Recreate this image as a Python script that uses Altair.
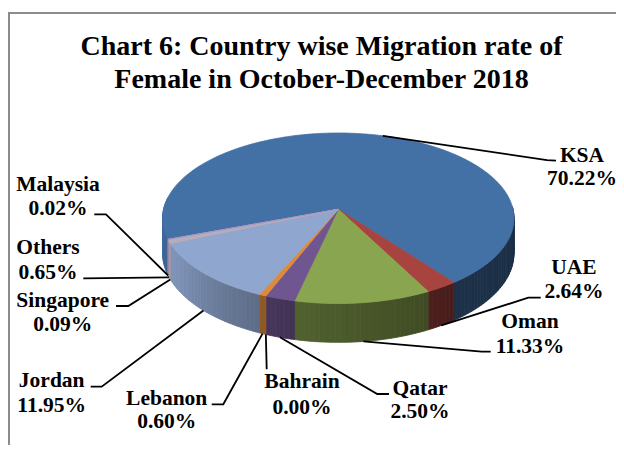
import math
import altair as alt

categories = ["KSA", "UAE", "Oman", "Qatar", "Bahrain", "Lebanon", "Jordan", "Singapore", "Others", "Malaysia"]
values = [70.22, 2.64, 11.33, 2.50, 0.00, 0.60, 11.95, 0.09, 0.65, 0.02]
colors = ["#4371a6", "#a84440", "#8aa54f", "#705690", "#4bacc6", "#de8a3c", "#8fa6cf", "#c9a0a0", "#aeb0c0", "#ab94c0"]
title_lines = ["Chart 6: Country wise Migration rate of", "Female in October-December 2018"]

# layout of the 3-D view (page pixels)
CX, CY, A, B, K, DEPTH = 338.3, 209.3, 174.7, 84.3, 0.105, 34.8
START = 249.9
# label centre x, two baselines, elbow points of the leader (from label to the rim)
layout = {
    "KSA": (582, 161.5, 185, [(556, 160.7), (547, 160.2)], "top"),
    "UAE": (574, 274, 298, [(540.7, 297.7), (528.3, 297.7)], "bottom"),
    "Oman": (530, 328, 352.5, [(490.7, 351.7), (481.7, 351.7)], "bottom"),
    "Qatar": (420, 395, 418, [(389, 394), (377.3, 394)], "bottom"),
    "Bahrain": (302, 388, 414, [(266.7, 369.3)], "bottom"),
    "Lebanon": (166.7, 405, 428, [(211.7, 404.3), (223.3, 404.3)], "bottom"),
    "Jordan": (51.7, 387, 411.5, [(90.7, 386.7), (101.7, 386.7)], "bottom"),
    "Singapore": (62.7, 306.5, 330.5, [(116, 306), (128.3, 306)], "bottom"),
    "Others": (48, 254, 279, [(83.3, 278.3)], "bottom"),
    "Malaysia": (58, 191, 215, [(94.3, 214.3), (106, 214.3)], "bottom"),
}


def rim(theta, bottom=False):
    t = math.radians(theta)
    u, v = math.sin(t), -math.cos(t)
    w = 1 / (1 - K * v)
    return (CX + A * u * w, CY + B * v * w + (DEPTH * w if bottom else 0))


def shade(hexcol, f):
    r, g, b = (int(hexcol[i:i + 2], 16) for i in (1, 3, 5))
    return "#%02x%02x%02x" % (int(r * f), int(g * f), int(b * f))


def wall_factor(theta):
    """light falls from the left on the side wall"""
    pts = [(90, 0.42), (145, 0.44), (195, 0.60), (215, 0.72), (240, 0.88), (280, 0.95)]
    for (a0, f0), (a1, f1) in zip(pts, pts[1:]):
        if a0 <= theta <= a1:
            return f0 + (f1 - f0) * (theta - a0) / (a1 - a0)
    return 0.42


def feature(coords, color, kind="Polygon"):
    if kind == "Polygon":
        c = [[list(p) for p in coords] + [list(coords[0])]]
    else:
        c = [list(p) for p in coords]
    return {"type": "Feature", "geometry": {"type": kind, "coordinates": c}, "properties": {"color": color}}


walls, tops, leaders, labels = [], [], [], []
angle = START
for name, val, col in zip(categories, values, colors):
    a0, a1 = angle, angle + val * 3.6
    mid = (a0 + a1) / 2
    angle = a1
    # top face
    n = max(2, int(val * 3))
    pts = [(CX, CY)] + [rim(a0 + (a1 - a0) * i / n) for i in range(n + 1)]
    if val > 0:
        tops.append(feature(pts, col))
    # side wall, only the part facing the viewer
    for off in (0, 360, -360):
        lo, hi = max(a0 + off, 88), min(a1 + off, 278)
        if hi <= lo:
            continue
        steps = max(1, int((hi - lo) / 1.5))
        for i in range(steps):
            s0 = lo + (hi - lo) * i / steps
            s1 = lo + (hi - lo) * (i + 1) / steps
            poly = [rim(s0), rim(s1), rim(s1, True), rim(s0, True)]
            walls.append(feature(poly, shade(col, wall_factor((s0 + s1) / 2))))
    # leader + label
    x, y1, y2, elbows, side = layout[name]
    m = mid % 360
    start = rim(m, side == "bottom")
    leaders.append(feature([start] + elbows[::-1], "#000000", "LineString"))
    labels.append({"lon": x, "lat": y1, "t": name})
    labels.append({"lon": x, "lat": y2, "t": f"{val:.2f}%"})

frame = [feature([(9, 453), (9, 13), (624, 13)], "#8c8c8c", "LineString")]

proj = alt.Projection(type="identity", scale=1, translate=[-8, -8])

frame_layer = alt.Chart(alt.Data(values=frame)).mark_geoshape(filled=False, strokeWidth=2, stroke="#8c8c8c").project(**proj.to_dict())
wall_layer = alt.Chart(alt.Data(values=walls + tops)).mark_geoshape(strokeWidth=0.8).encode(
    fill=alt.Fill("properties.color:N", scale=None, legend=None),
    stroke=alt.Stroke("properties.color:N", scale=None, legend=None),
).project(**proj.to_dict())
leader_layer = alt.Chart(alt.Data(values=leaders)).mark_geoshape(filled=False, stroke="#000000", strokeWidth=1.8).project(**proj.to_dict())
text_layer = alt.Chart(alt.Data(values=labels)).mark_text(
    font="Liberation Serif", fontWeight="bold", fontSize=21.5, align="center", baseline="alphabetic", color="#000000"
).encode(longitude="lon:Q", latitude="lat:Q", text="t:N").project(**proj.to_dict())

chart = alt.layer(frame_layer, wall_layer, leader_layer, text_layer).properties(
    width=608, height=437, padding=0, autosize=alt.AutoSizeParams(type="none"),
    title=alt.TitleParams(text=title_lines, font="Liberation Serif", fontWeight="bold", fontSize=28,
                          color="#000000", anchor="middle", frame="group", dx=9.5, dy=86, lineHeight=33, offset=0),
).configure_view(stroke=None)

chart.save("out.html", embed_options={"renderer": "svg", "actions": False})
